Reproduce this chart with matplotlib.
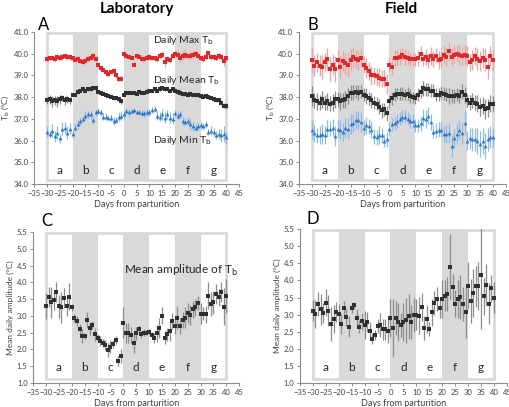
import numpy as np
import matplotlib
matplotlib.use('Agg')
import matplotlib.pyplot as plt
from matplotlib.patches import Rectangle

plt.rcParams['font.family'] = ['Lato', 'DejaVu Sans']

#days from parturition, one value per day
days = np.arange(-30, 41)
band_labels = ['a', 'b', 'c', 'd', 'e', 'f', 'g']
band_edges = [-30, -20, -10, 0, 10, 20, 30, 40]
shaded_bands = ['b', 'd', 'f']

#laboratory body temperature (degC)
lab_max = [39.75, 39.8, 39.8, 39.75, 39.85, 39.8, 39.85, 39.9, 39.85, 39.85,
           39.8, 39.7, 39.75, 39.65, 39.6, 39.65, 39.75, 39.8, 39.9, 39.75,
           39.5, 39.35, 39.25, 39.15, 39.05, 39.15, 39.2, 39.0, 38.85, 38.85,
           40.0, 39.9, 39.85, 39.8, 39.5, 39.9, 39.85, 39.75, 39.75, 39.8,
           39.85, 39.8, 39.8, 39.75, 39.9, 39.95, 39.6, 39.75, 39.7, 39.9,
           40.0, 39.95, 39.8, 39.9, 39.95, 39.9, 39.9, 39.95, 40.0, 39.9,
           39.8, 39.75, 39.85, 40.05, 39.85, 39.85, 39.8, 39.9, 39.85, 39.65, 39.8]
lab_max_err = [0.15, 0.1, 0.1, 0.12, 0.1, 0.12, 0.12, 0.1, 0.12, 0.12,
               0.1, 0.1, 0.12, 0.1, 0.1, 0.1, 0.12, 0.15, 0.15, 0.12,
               0.12, 0.1, 0.1, 0.1, 0.12, 0.1, 0.15, 0.12, 0.1, 0.1,
               0.1, 0.1, 0.1, 0.1, 0.12, 0.1, 0.1, 0.12, 0.1, 0.1,
               0.12, 0.1, 0.1, 0.12, 0.15, 0.15, 0.2, 0.15, 0.15, 0.15,
               0.15, 0.2, 0.2, 0.2, 0.2, 0.15, 0.2, 0.2, 0.15, 0.15,
               0.1, 0.12, 0.12, 0.1, 0.12, 0.12, 0.15, 0.15, 0.15, 0.2, 0.12]
lab_mean = [37.85, 37.9, 37.8, 37.85, 37.8, 37.9, 37.95, 37.85, 37.9, 37.85,
            38.1, 38.1, 38.25, 38.3, 38.35, 38.3, 38.35, 38.35, 38.4, 38.4,
            38.25, 38.2, 38.15, 38.1, 38.05, 38.0, 37.95, 37.95, 37.9, 37.8,
            38.1, 38.2, 38.2, 38.2, 38.2, 38.15, 38.25, 38.2, 38.2, 38.25,
            38.3, 38.3, 38.35, 38.3, 38.35, 38.4, 38.35, 38.35, 38.3, 38.35,
            38.3, 38.25, 38.2, 38.15, 38.15, 38.1, 38.15, 38.1, 38.1, 38.1,
            38.05, 38.0, 38.05, 38.0, 37.95, 37.9, 37.85, 37.85, 37.75, 37.6, 37.6]
lab_mean_err = [0.15, 0.2, 0.25, 0.2, 0.25, 0.2, 0.15, 0.2, 0.15, 0.15,
                0.05, 0.05, 0.06, 0.05, 0.05, 0.05, 0.06, 0.05, 0.05, 0.06,
                0.06, 0.05, 0.06, 0.06, 0.05, 0.06, 0.08, 0.06, 0.08, 0.1,
                0.06, 0.05, 0.05, 0.06, 0.05, 0.05, 0.05, 0.06, 0.05, 0.05,
                0.05, 0.05, 0.06, 0.05, 0.06, 0.05, 0.05, 0.08, 0.08, 0.1,
                0.1, 0.1, 0.12, 0.1, 0.1, 0.1, 0.08, 0.08, 0.08, 0.08,
                0.06, 0.06, 0.08, 0.08, 0.06, 0.06, 0.08, 0.08, 0.1, 0.12, 0.15]
lab_min = [36.4, 36.3, 36.45, 36.2, 36.35, 36.1, 36.55, 36.6, 36.35, 36.55,
           36.3, 36.6, 36.75, 36.9, 37.0, 37.15, 37.2, 37.2, 36.95, 37.3,
           37.35, 37.3, 37.1, 37.1, 37.05, 37.05, 36.9, 36.95, 37.1, 37.15,
           37.2, 37.35, 37.3, 37.35, 37.4, 37.3, 37.3, 37.25, 37.25, 37.3,
           37.3, 37.4, 37.45, 37.15, 37.1, 37.2, 37.05, 37.2, 37.05, 37.0,
           37.25, 37.15, 37.2, 36.9, 36.85, 36.9, 36.75, 36.65, 36.6, 36.65,
           36.7, 36.65, 36.75, 36.4, 36.45, 36.4, 36.25, 36.3, 36.25, 36.3, 36.15]
lab_min_err = [0.25, 0.2, 0.3, 0.25, 0.3, 0.2, 0.3, 0.25, 0.3, 0.25,
               0.2, 0.15, 0.2, 0.2, 0.15, 0.2, 0.15, 0.2, 0.2, 0.15,
               0.15, 0.15, 0.15, 0.15, 0.12, 0.15, 0.2, 0.15, 0.2, 0.2,
               0.2, 0.15, 0.15, 0.12, 0.12, 0.12, 0.12, 0.15, 0.15, 0.15,
               0.15, 0.15, 0.15, 0.2, 0.2, 0.25, 0.25, 0.2, 0.25, 0.25,
               0.15, 0.2, 0.15, 0.2, 0.2, 0.2, 0.25, 0.2, 0.15, 0.15,
               0.15, 0.15, 0.15, 0.15, 0.2, 0.2, 0.2, 0.25, 0.3, 0.35, 0.3]

#field body temperature (degC)
field_max = [39.7, 39.45, 39.6, 39.45, 39.4, 39.6, 39.75, 39.3, 39.5, 39.3,
             39.7, 39.4, 39.65, 39.55, 39.5, 39.7, 39.85, 39.75, 39.7, 39.8,
             39.5, 39.35, 39.2, 39.0, 39.0, 38.95, 38.9, 38.85, 38.85, 38.6,
             39.5, 39.4, 39.8, 39.8, 39.85, 39.95, 39.85, 39.8, 39.75, 39.75,
             39.75, 39.8, 40.0, 39.75, 39.85, 39.7, 39.9, 39.75, 39.9, 39.7,
             39.75, 39.95, 39.85, 40.1, 39.85, 39.95, 40.0, 39.95, 39.9, 39.95,
             39.9, 39.6, 39.7, 39.9, 39.75, 39.65, 39.8, 39.7, 39.4, 39.9, 39.7]
field_max_err = [0.6, 0.5, 0.45, 0.5, 0.55, 0.45, 0.5, 0.55, 0.5, 0.6,
                 0.45, 0.5, 0.45, 0.5, 0.55, 0.5, 0.45, 0.4, 0.45, 0.4,
                 0.4, 0.45, 0.4, 0.45, 0.4, 0.4, 0.45, 0.4, 0.4, 0.45,
                 0.35, 0.4, 0.35, 0.35, 0.35, 0.3, 0.35, 0.3, 0.3, 0.3,
                 0.3, 0.35, 0.35, 0.3, 0.35, 0.35, 0.4, 0.35, 0.35, 0.4,
                 0.35, 0.4, 0.4, 0.45, 0.4, 0.4, 0.4, 0.45, 0.4, 0.45,
                 0.45, 0.4, 0.45, 0.4, 0.5, 0.45, 0.45, 0.5, 0.55, 0.45, 0.45]
field_mean = [38.05, 37.85, 37.8, 37.75, 37.9, 37.75, 37.8, 37.7, 37.75, 37.9,
              37.9, 37.8, 37.85, 37.9, 38.05, 38.2, 38.2, 38.25, 38.2, 38.25,
              38.1, 38.05, 37.95, 37.85, 37.75, 37.7, 37.55, 37.4, 37.45, 37.25,
              37.8, 37.95, 38.1, 38.15, 38.15, 38.15, 38.1, 38.15, 38.05, 38.0,
              37.95, 38.1, 38.25, 38.4, 38.35, 38.35, 38.3, 38.3, 38.1, 38.1,
              38.2, 38.15, 38.1, 38.05, 38.05, 38.05, 38.1, 38.05, 38.25, 38.1,
              37.85, 37.75, 37.85, 37.75, 37.7, 37.55, 37.6, 37.45, 37.5, 37.7, 37.7]
field_mean_err = [0.45, 0.35, 0.4, 0.35, 0.4, 0.35, 0.4, 0.35, 0.4, 0.4,
                  0.35, 0.4, 0.35, 0.4, 0.35, 0.35, 0.35, 0.3, 0.35, 0.3,
                  0.3, 0.35, 0.3, 0.35, 0.3, 0.3, 0.35, 0.35, 0.3, 0.35,
                  0.3, 0.3, 0.3, 0.25, 0.3, 0.3, 0.25, 0.3, 0.3, 0.25,
                  0.25, 0.3, 0.3, 0.35, 0.3, 0.3, 0.3, 0.3, 0.3, 0.3,
                  0.3, 0.3, 0.3, 0.35, 0.3, 0.3, 0.3, 0.3, 0.35, 0.35,
                  0.3, 0.35, 0.35, 0.35, 0.4, 0.4, 0.4, 0.45, 0.4, 0.4, 0.35]
field_min = [36.5, 36.35, 36.25, 36.25, 36.3, 36.25, 36.55, 36.55, 36.6, 36.2,
             36.55, 36.5, 36.4, 36.6, 36.55, 36.75, 36.8, 36.95, 36.95, 36.85,
             36.6, 36.7, 36.65, 36.5, 36.2, 36.15, 36.25, 36.25, 36.0, 36.05,
             36.55, 36.75, 36.8, 36.9, 37.0, 37.1, 37.1, 37.0, 36.9, 36.9,
             36.7, 36.7, 36.8, 37.05, 37.0, 37.15, 36.85, 36.4, 36.45, 36.5,
             36.5, 36.3, 36.3, 36.35, 35.75, 36.1, 36.3, 36.5, 36.35, 36.8,
             36.0, 36.1, 36.05, 36.05, 36.0, 35.85, 36.0, 35.75, 36.05, 36.15, 36.15]
field_min_err = [0.45, 0.4, 0.35, 0.4, 0.45, 0.4, 0.4, 0.35, 0.4, 0.45,
                 0.4, 0.45, 0.4, 0.45, 0.5, 0.45, 0.4, 0.4, 0.4, 0.45,
                 0.35, 0.4, 0.35, 0.4, 0.35, 0.35, 0.4, 0.35, 0.3, 0.35,
                 0.3, 0.3, 0.3, 0.3, 0.3, 0.3, 0.3, 0.3, 0.3, 0.3,
                 0.3, 0.3, 0.35, 0.4, 0.4, 0.4, 0.35, 0.3, 0.35, 0.35,
                 0.35, 0.35, 0.4, 0.45, 0.5, 0.45, 0.45, 0.45, 0.5, 0.55,
                 0.45, 0.5, 0.55, 0.55, 0.6, 0.6, 0.6, 0.6, 0.55, 0.5, 0.45]

#mean daily amplitude (degC)
lab_amp = [3.3, 3.55, 3.4, 3.48, 3.72, 3.28, 3.25, 3.53, 3.3, 3.57,
           3.25, 2.93, 2.85, 2.62, 2.4, 2.4, 2.88, 2.63, 2.73, 2.45,
           2.35, 2.25, 2.18, 2.12, 1.98, 2.08, 2.15, 2.27, 1.65, 1.8,
           2.8, 2.5, 2.48, 2.43, 2.2, 2.48, 2.62, 2.45, 2.5, 2.5,
           2.52, 2.42, 2.33, 2.48, 2.65, 3.0, 2.35, 2.45, 2.55, 2.85,
           2.7, 2.95, 2.7, 2.88, 2.95, 3.08, 3.02, 3.2, 3.25, 3.38,
           3.07, 3.07, 3.05, 3.6, 3.35, 3.4, 3.65, 3.55, 3.72, 3.27, 3.6]
lab_amp_err = [0.38, 0.3, 0.45, 0.3, 0.3, 0.35, 0.45, 0.3, 0.3, 0.4,
               0.1, 0.12, 0.15, 0.15, 0.2, 0.1, 0.25, 0.2, 0.12, 0.2,
               0.12, 0.15, 0.12, 0.15, 0.2, 0.2, 0.12, 0.12, 0.15, 0.2,
               0.45, 0.3, 0.3, 0.25, 0.3, 0.2, 0.12, 0.1, 0.1, 0.08,
               0.08, 0.1, 0.15, 0.25, 0.3, 0.25, 0.2, 0.2, 0.3, 0.25,
               0.25, 0.35, 0.25, 0.25, 0.3, 0.3, 0.3, 0.25, 0.25, 0.2,
               0.3, 0.2, 0.25, 0.4, 0.35, 0.35, 0.3, 0.25, 0.3, 0.55, 0.5]
field_amp = [3.12, 3.02, 3.3, 3.15, 3.05, 3.35, 3.12, 2.72, 2.87, 3.08,
             3.02, 2.72, 3.2, 2.92, 2.65, 3.2, 3.27, 2.9, 2.65, 2.8,
             2.7, 2.78, 2.52, 2.3, 2.4, 2.67, 2.7, 2.57, 2.57, 2.53,
             2.9, 2.6, 2.9, 2.78, 2.7, 2.78, 2.83, 2.95, 2.78, 3.0,
             3.0, 2.97, 3.22, 2.62, 2.87, 2.57, 3.07, 3.35, 3.45, 3.2,
             3.45, 3.55, 3.6, 4.4, 3.8, 3.32, 3.45, 3.52, 3.32, 3.07,
             3.85, 3.4, 3.62, 3.83, 3.83, 4.17, 3.53, 3.87, 3.32, 3.77, 3.5]
field_amp_err = [0.3, 0.4, 0.35, 0.45, 0.3, 0.4, 0.45, 0.5, 0.4, 0.3,
                 0.3, 0.3, 0.2, 0.25, 0.3, 0.15, 0.1, 0.25, 0.2, 0.25,
                 0.4, 0.3, 0.25, 0.15, 0.15, 0.2, 0.35, 0.3, 0.3, 0.35,
                 0.55, 0.85, 0.5, 0.55, 0.35, 0.55, 0.65, 0.65, 0.5, 0.5,
                 0.45, 0.55, 0.4, 0.35, 0.4, 0.2, 0.4, 0.35, 0.35, 0.3,
                 0.55, 0.45, 0.5, 0.95, 0.4, 0.4, 0.55, 0.65, 0.5, 0.75,
                 0.7, 0.65, 0.7, 0.6, 0.7, 1.6, 0.55, 0.6, 0.6, 0.4, 0.45]

red, red_e = '#e0282a', '#f0a0a0'
black, black_e = '#303030', '#8c8c8c'
blue, blue_e = '#2a76c4', '#8dbae6'
axis_grey = '#8c8c8c'
text_grey = '#404040'


def setup(ax, ylo, yhi, ystep, fmt, ylabel, label_y):
    ax.set_xlim(-35, 45)
    ax.set_ylim(ylo, yhi)
    ax.set_xticks(np.arange(-35, 46, 5))
    ax.set_yticks(np.arange(ylo, yhi + 0.01, ystep))
    ax.set_yticklabels([fmt % v for v in np.arange(ylo, yhi + 0.01, ystep)])
    for s in ['top', 'right']:
        ax.spines[s].set_visible(False)
    for s in ['left', 'bottom']:
        ax.spines[s].set_color(axis_grey)
        ax.spines[s].set_linewidth(0.8)
    ax.tick_params(labelsize=5.5, colors=axis_grey, labelcolor=text_grey,
                   length=2.5, width=0.7, pad=1.5)
    ax.set_ylabel(ylabel, fontsize=6, color=text_grey, labelpad=2)
    ax.set_xlabel('Days from parturition', fontsize=6.5, color=text_grey, labelpad=2.5)
    # shaded periods and labelled frame
    span = yhi - ylo
    box_lo = ylo + span * 0.025
    box_hi = yhi - span * 0.008
    for i, lab in enumerate(band_labels):
        x0, x1 = band_edges[i], band_edges[i + 1]
        if lab in shaded_bands:
            ax.axvspan(x0, x1, ymin=0.025, ymax=0.992, color='#d9d9d9', lw=0, zorder=0)
        ax.text((x0 + x1) / 2, label_y, lab, ha='center', va='center',
                fontsize=8.5, color='#262626')
    ax.add_patch(Rectangle((-30, box_lo), 70, box_hi - box_lo, fill=False,
                           edgecolor='#d9d9d9', lw=2, zorder=0.5))


def draw(ax, y, err, c, ce, marker, ms):
    ax.errorbar(days, y, yerr=err, fmt=marker, color=c, ecolor=ce, ms=ms,
                elinewidth=0.9, capsize=0, mew=0, zorder=3)


fig = plt.figure(figsize=(5.1, 4.07), dpi=100)
axA = fig.add_axes([0.067, 0.548, 0.402, 0.3735])
axB = fig.add_axes([0.586, 0.548, 0.406, 0.3735])
axC = fig.add_axes([0.065, 0.059, 0.404, 0.371])
axD = fig.add_axes([0.588, 0.059, 0.406, 0.378])

tb_label = 'T$_\\mathrm{b}$ (\u00b0C)'
amp_label = 'Mean daily amplitude (\u00b0C)'
for ax in (axA, axB):
    setup(ax, 34.0, 41.0, 1.0, '%.1f', tb_label, 34.62)
for ax in (axC, axD):
    setup(ax, 1.0, 5.5, 0.5, '%.1f', amp_label, 1.45)

draw(axA, lab_max, lab_max_err, red, red_e, 's', 2.4)
draw(axA, lab_mean, lab_mean_err, black, black_e, 's', 2.4)
draw(axA, lab_min, lab_min_err, blue, blue_e, '^', 2.7)
draw(axB, field_max, field_max_err, red, red_e, 's', 2.4)
draw(axB, field_mean, field_mean_err, black, black_e, 's', 2.4)
draw(axB, field_min, field_min_err, blue, blue_e, '^', 2.7)
draw(axC, lab_amp, lab_amp_err, black, black_e, 's', 2.9)
draw(axD, field_amp, field_amp_err, black, black_e, 's', 2.9)

axA.text(11.2, 40.6, 'Daily Max T$_\\mathrm{b}$', fontsize=7.5, color='#262626', va='center')
axA.text(11.2, 38.75, 'Daily Mean T$_\\mathrm{b}$', fontsize=7.5, color='#262626', va='center')
axA.text(11.2, 36.0, 'Daily Min T$_\\mathrm{b}$', fontsize=7.5, color='#262626', va='center')
axC.text(0.3, 4.34, 'Mean amplitude of T$_\\mathrm{b}$', fontsize=8.5, color='#262626', va='center')

fig.text(0.268, 0.978, 'Laboratory', fontsize=11, fontweight='bold', ha='center', va='center')
fig.text(0.787, 0.978, 'Field', fontsize=11, fontweight='bold', ha='center', va='center')
fig.text(0.086, 0.938, 'A', fontsize=12, ha='center', va='center')
fig.text(0.614, 0.938, 'B', fontsize=12, ha='center', va='center')
fig.text(0.092, 0.457, 'C', fontsize=12, ha='center', va='center')
fig.text(0.614, 0.462, 'D', fontsize=12, ha='center', va='center')

fig.savefig('out.png', dpi=100)
